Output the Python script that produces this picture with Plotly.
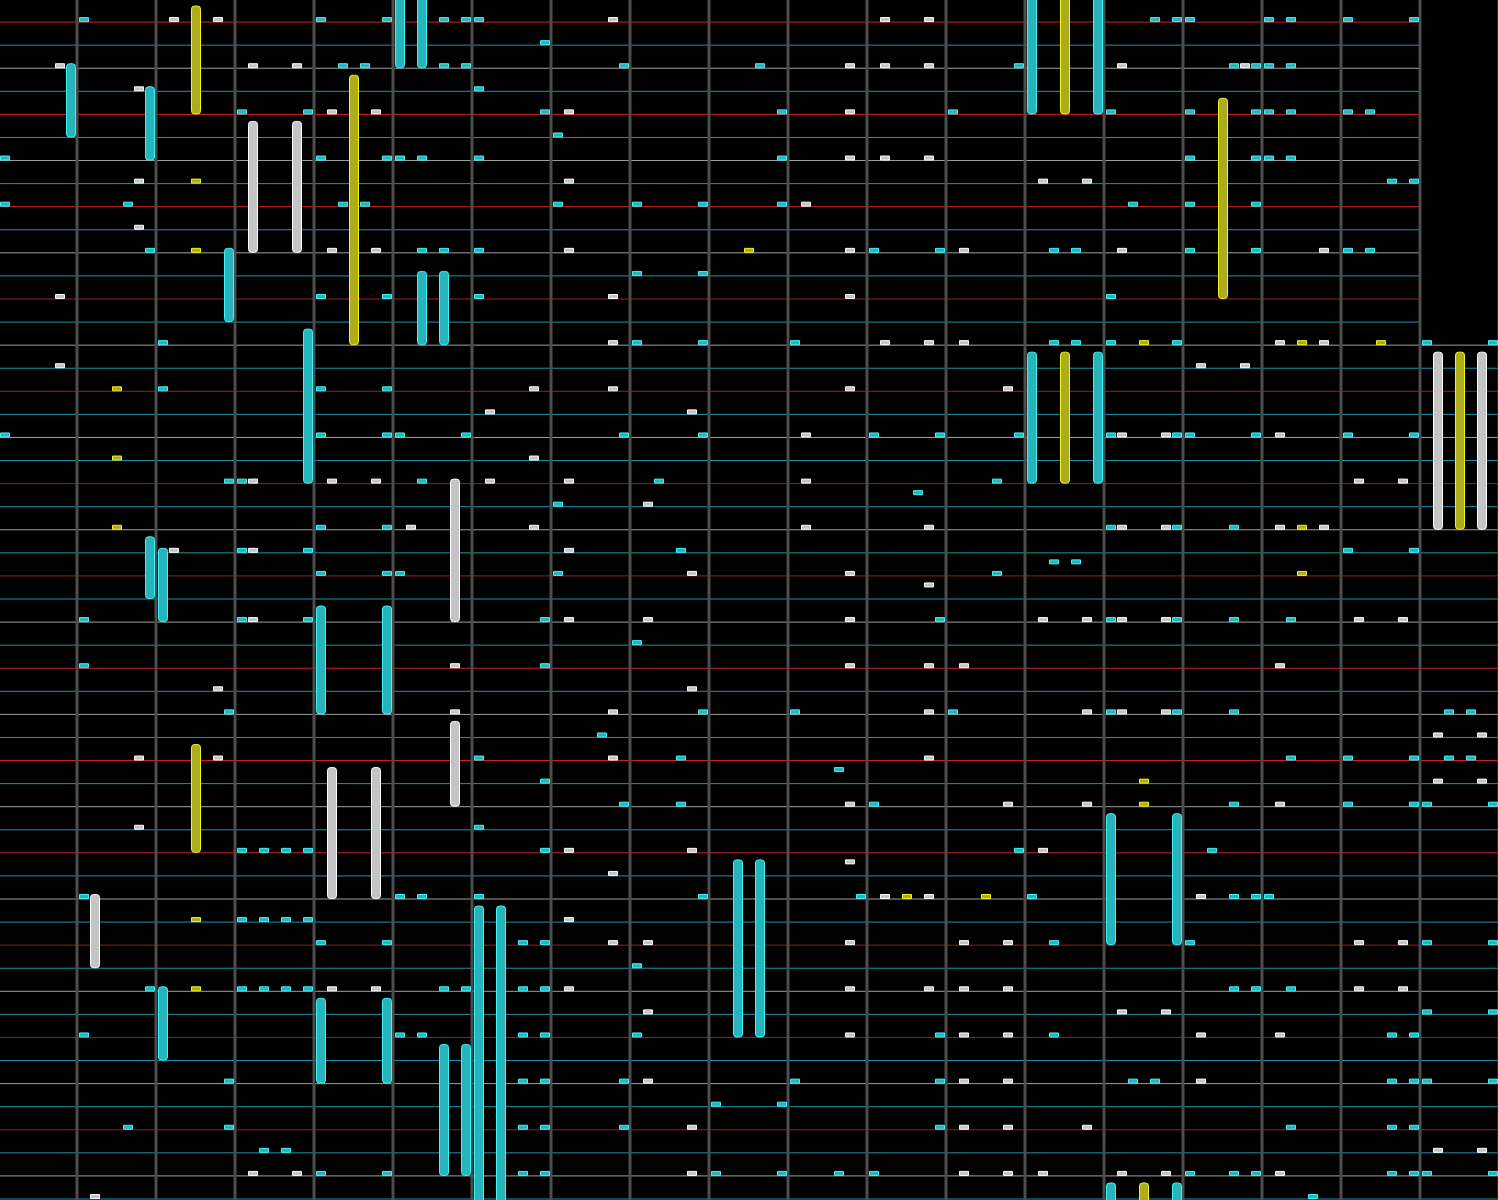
import plotly.graph_objects as go

# vertical piano-roll: columns are octaves (7 keys each), rows are time steps
# taps: (row, octave, key)   holds: (start_row, end_row, octave, key)

cyan_taps = [
    (0, 0, 0), (0, 3, 0), (0, 3, 6), (0, 4, 4), (0, 4, 6), (0, 5, 0), (0, 13, 4), (0, 13, 6),
    (0, 14, 0), (0, 15, 0), (0, 15, 2), (0, 16, 0), (0, 16, 6),
    (1, 5, 6),
    (2, 3, 2), (2, 3, 4), (2, 4, 4), (2, 4, 6), (2, 6, 6), (2, 8, 4), (2, 11, 6), (2, 14, 4),
    (2, 14, 6), (2, 15, 0), (2, 15, 2),
    (3, 5, 0),
    (4, 2, 0), (4, 2, 6), (4, 5, 6), (4, 8, 6), (4, 11, 0), (4, 13, 0), (4, 14, 0), (4, 14, 6),
    (4, 15, 0), (4, 15, 2), (4, 16, 0), (4, 16, 2),
    (5, 6, 0),
    (6, -1, 0), (6, 3, 0), (6, 3, 6), (6, 4, 0), (6, 4, 2), (6, 5, 0), (6, 8, 6), (6, 14, 0),
    (6, 14, 6), (6, 15, 0), (6, 15, 2),
    (7, 16, 4), (7, 16, 6),
    (8, -1, 0), (8, 0, 4), (8, 3, 2), (8, 3, 4), (8, 6, 0), (8, 7, 0), (8, 7, 6), (8, 8, 6),
    (8, 13, 2), (8, 14, 0), (8, 14, 6),
    (10, 0, 6), (10, 4, 2), (10, 4, 4), (10, 5, 0), (10, 10, 0), (10, 10, 6), (10, 12, 2),
    (10, 12, 4), (10, 14, 0), (10, 14, 6), (10, 16, 0), (10, 16, 2),
    (11, 7, 0), (11, 7, 6),
    (12, 3, 0), (12, 3, 6), (12, 5, 0), (12, 13, 0),
    (14, 1, 0), (14, 7, 0), (14, 7, 6), (14, 9, 0), (14, 12, 2), (14, 12, 4), (14, 13, 0),
    (14, 13, 6), (14, 17, 0), (14, 17, 6),
    (16, 1, 0), (16, 3, 0), (16, 3, 6),
    (18, -1, 0), (18, 3, 0), (18, 3, 6), (18, 4, 0), (18, 4, 6), (18, 6, 6), (18, 7, 6),
    (18, 10, 0), (18, 10, 6), (18, 11, 6), (18, 13, 0), (18, 13, 6), (18, 14, 0), (18, 14, 6),
    (18, 16, 0), (18, 16, 6),
    (20, 1, 6), (20, 2, 0), (20, 4, 2), (20, 7, 2), (20, 11, 4),
    (20.5, 10, 4),
    (21, 6, 0),
    (22, 3, 0), (22, 3, 6), (22, 13, 0), (22, 13, 6), (22, 14, 4),
    (23, 2, 0), (23, 2, 6), (23, 7, 4), (23, 16, 0), (23, 16, 6),
    (23.5, 12, 2), (23.5, 12, 4),
    (24, 3, 0), (24, 3, 6), (24, 4, 0), (24, 6, 0), (24, 11, 4),
    (26, 0, 0), (26, 2, 0), (26, 2, 6), (26, 5, 6), (26, 10, 6), (26, 13, 0), (26, 13, 6),
    (26, 14, 4), (26, 15, 2),
    (27, 7, 0),
    (28, 0, 0), (28, 5, 6),
    (30, 1, 6), (30, 7, 6), (30, 9, 0), (30, 11, 0), (30, 13, 0), (30, 13, 6), (30, 14, 4),
    (30, 17, 2), (30, 17, 4),
    (31, 6, 4),
    (32, 5, 0), (32, 7, 4), (32, 15, 2), (32, 16, 0), (32, 16, 6), (32, 17, 2), (32, 17, 4),
    (32.5, 9, 4),
    (33, 5, 6),
    (34, 6, 6), (34, 7, 4), (34, 10, 0), (34, 14, 4), (34, 16, 0), (34, 16, 6), (34, 17, 0),
    (34, 17, 6),
    (35, 5, 0),
    (36, 2, 0), (36, 2, 2), (36, 2, 4), (36, 2, 6), (36, 5, 6), (36, 11, 6), (36, 14, 2),
    (38, 0, 0), (38, 4, 0), (38, 4, 2), (38, 5, 0), (38, 7, 6), (38, 9, 6), (38, 12, 0),
    (38, 14, 4), (38, 14, 6), (38, 15, 0),
    (39, 2, 0), (39, 2, 2), (39, 2, 4), (39, 2, 6),
    (40, 3, 0), (40, 3, 6), (40, 5, 4), (40, 5, 6), (40, 12, 2), (40, 14, 0), (40, 17, 0),
    (40, 17, 6),
    (41, 7, 0),
    (42, 0, 6), (42, 2, 0), (42, 2, 2), (42, 2, 4), (42, 2, 6), (42, 4, 4), (42, 4, 6),
    (42, 5, 4), (42, 5, 6), (42, 14, 4), (42, 14, 6), (42, 15, 2),
    (43, 17, 0), (43, 17, 6),
    (44, 0, 0), (44, 4, 0), (44, 4, 2), (44, 5, 4), (44, 5, 6), (44, 7, 0), (44, 10, 6),
    (44, 12, 2), (44, 16, 4), (44, 16, 6),
    (46, 1, 6), (46, 5, 4), (46, 5, 6), (46, 6, 6), (46, 9, 0), (46, 10, 6), (46, 13, 2),
    (46, 13, 4), (46, 16, 4), (46, 16, 6), (46, 17, 0), (46, 17, 6),
    (47, 8, 0), (47, 8, 6),
    (48, 0, 4), (48, 1, 6), (48, 5, 4), (48, 5, 6), (48, 6, 6), (48, 10, 6), (48, 15, 2),
    (48, 16, 4), (48, 16, 6),
    (49, 2, 2), (49, 2, 4),
    (50, 3, 0), (50, 3, 6), (50, 5, 4), (50, 5, 6), (50, 8, 0), (50, 8, 6), (50, 9, 4),
    (50, 10, 0), (50, 14, 0), (50, 14, 4), (50, 14, 6), (50, 16, 4), (50, 16, 6), (50, 17, 0),
    (50, 17, 6),
    (51, 15, 4),
]

white_taps = [
    (0, 1, 1), (0, 1, 5), (0, 6, 5), (0, 10, 1), (0, 10, 5),
    (2, -1, 5), (2, 2, 1), (2, 2, 5), (2, 9, 5), (2, 10, 1), (2, 10, 5), (2, 13, 1), (2, 14, 5),
    (3, 0, 5),
    (4, 3, 1), (4, 3, 5), (4, 6, 1), (4, 9, 5),
    (6, 9, 5), (6, 10, 1), (6, 10, 5),
    (7, 0, 5), (7, 6, 1), (7, 12, 1), (7, 12, 5),
    (8, 9, 1),
    (9, 0, 5),
    (10, 3, 1), (10, 3, 5), (10, 6, 1), (10, 9, 5), (10, 11, 1), (10, 13, 1), (10, 15, 5),
    (12, -1, 5), (12, 6, 5), (12, 9, 5),
    (14, 6, 5), (14, 10, 1), (14, 10, 5), (14, 11, 1), (14, 15, 1), (14, 15, 5),
    (15, -1, 5), (15, 14, 1), (15, 14, 5),
    (16, 5, 5), (16, 6, 5), (16, 9, 5), (16, 11, 5),
    (17, 5, 1), (17, 7, 5),
    (18, 9, 1), (18, 13, 1), (18, 13, 5), (18, 15, 1),
    (19, 5, 5),
    (20, 2, 1), (20, 3, 1), (20, 3, 5), (20, 5, 1), (20, 6, 1), (20, 9, 1), (20, 16, 1),
    (20, 16, 5),
    (21, 7, 1),
    (22, 4, 1), (22, 5, 5), (22, 9, 1), (22, 10, 5), (22, 13, 1), (22, 13, 5), (22, 15, 1),
    (22, 15, 5),
    (23, 1, 1), (23, 2, 1), (23, 6, 1),
    (24, 7, 5), (24, 9, 5),
    (24.5, 10, 5),
    (26, 2, 1), (26, 6, 1), (26, 7, 1), (26, 9, 5), (26, 12, 1), (26, 12, 5), (26, 13, 1),
    (26, 13, 5), (26, 16, 1), (26, 16, 5),
    (28, 4, 5), (28, 9, 5), (28, 10, 5), (28, 11, 1), (28, 15, 1),
    (29, 1, 5), (29, 7, 5),
    (30, 4, 5), (30, 6, 5), (30, 10, 5), (30, 12, 5), (30, 13, 1), (30, 13, 5),
    (31, 17, 1), (31, 17, 5),
    (32, 0, 5), (32, 1, 5), (32, 6, 5), (32, 10, 5),
    (33, 17, 1), (33, 17, 5),
    (34, 9, 5), (34, 11, 5), (34, 12, 5), (34, 15, 1),
    (35, 0, 5),
    (36, 6, 1), (36, 7, 5), (36, 12, 1),
    (36.5, 9, 5),
    (37, 6, 5),
    (38, 10, 1), (38, 10, 5), (38, 14, 1),
    (39, 6, 1),
    (40, 6, 5), (40, 7, 1), (40, 9, 5), (40, 11, 1), (40, 11, 5), (40, 16, 1), (40, 16, 5),
    (42, 3, 1), (42, 3, 5), (42, 6, 1), (42, 9, 5), (42, 10, 5), (42, 11, 1), (42, 11, 5),
    (42, 16, 1), (42, 16, 5),
    (43, 7, 1), (43, 13, 1), (43, 13, 5),
    (44, 9, 5), (44, 11, 1), (44, 11, 5), (44, 14, 1), (44, 15, 1),
    (46, 7, 1), (46, 11, 1), (46, 11, 5), (46, 14, 1),
    (48, 7, 5), (48, 11, 1), (48, 11, 5), (48, 12, 5),
    (49, 17, 1), (49, 17, 5),
    (50, 2, 1), (50, 2, 5), (50, 7, 5), (50, 11, 1), (50, 11, 5), (50, 12, 1), (50, 13, 1),
    (50, 13, 5), (50, 15, 1),
    (51, 0, 1),
]

yellow_taps = [
    (7, 1, 3), (10, 1, 3), (10, 8, 3),
    (14, 13, 3), (14, 15, 3), (14, 16, 3),
    (16, 0, 3), (19, 0, 3), (22, 0, 3), (22, 15, 3), (24, 15, 3),
    (33, 13, 3), (34, 13, 3), (38, 10, 3), (38, 11, 3), (39, 1, 3), (42, 1, 3),
]

cyan_holds = [
    (-2, 2, 4, 0), (-2, 2, 4, 2), (2, 5, -1, 6), (3, 6, 0, 6), (10, 13, 1, 6),
    (11, 14, 4, 2), (11, 14, 4, 4), (13.5, 20, 2, 6), (-2, 4, 12, 0), (-2, 4, 12, 6),
    (14.5, 20, 12, 0), (14.5, 20, 12, 6), (22.5, 25, 0, 6), (23, 26, 1, 0),
    (25.5, 30, 3, 0), (25.5, 30, 3, 6), (34.5, 40, 13, 0), (34.5, 40, 13, 6),
    (36.5, 44, 8, 2), (36.5, 44, 8, 4), (38.5, 53, 5, 0), (38.5, 53, 5, 2),
    (42, 45, 1, 0), (42.5, 46, 3, 0), (42.5, 46, 3, 6), (44.5, 50, 4, 4), (44.5, 50, 4, 6),
    (50.5, 53, 13, 0), (50.5, 53, 13, 6),
]

yellow_holds = [
    (-0.5, 4, 1, 3), (2.5, 14, 3, 3), (3.5, 12, 14, 3), (-2, 4, 12, 3),
    (14.5, 20, 12, 3), (14.5, 22, 17, 3), (31.5, 36, 1, 3), (50.5, 53, 13, 3),
]

white_holds = [
    (4.5, 10, 2, 1), (4.5, 10, 2, 5), (14.5, 22, 17, 1), (14.5, 22, 17, 5),
    (20, 26, 4, 5), (30.5, 34, 4, 5), (32.5, 38, 3, 1), (32.5, 38, 3, 5), (38, 41, 0, 1),
]

bright_red_rows = [0, 4, 8, 28, 32, 36]
short_rows = 14          # the first rows stop at the last octave line
n_rows = 52

ROW_PX = 1200 / n_rows
OCT_PX = 79
NOTE_W = 9 / OCT_PX
TOP = 4.5 / ROW_PX
BOT = 0.5 / ROW_PX

palette = {
    "cyan": ("#27b4ba", "#3ff4f8"),
    "white": ("#c4c4c4", "#ffffff"),
    "yellow": ("#adad1c", "#f4f41e"),
}


def note_x(octave, key):
    return octave + (7 + 11 * key) / OCT_PX


fig = go.Figure()


def add_taps(taps, name):
    fill, edge = palette[name]
    fig.add_trace(go.Bar(
        x=[note_x(o, k) for r, o, k in taps],
        base=[r - TOP for r, o, k in taps],
        y=[TOP - BOT] * len(taps),
        width=NOTE_W,
        marker=dict(color=fill, line=dict(color=edge, width=1)),
        hoverinfo="skip",
    ))


def add_holds(holds, name):
    fill, edge = palette[name]
    fig.add_trace(go.Bar(
        x=[note_x(o, k) for s, e, o, k in holds],
        base=[s - TOP for s, e, o, k in holds],
        y=[e - s + TOP - BOT for s, e, o, k in holds],
        width=NOTE_W,
        marker=dict(color=fill, line=dict(color=edge, width=1), cornerradius=3),
        hoverinfo="skip",
    ))


add_holds(cyan_holds, "cyan")
add_holds(yellow_holds, "yellow")
add_holds(white_holds, "white")
add_taps(cyan_taps, "cyan")
add_taps(white_taps, "white")
add_taps(yellow_taps, "yellow")

# grid lines
shapes = []
for k in range(n_rows):
    m = k % 4
    if m == 0:
        col = "#d42020" if k in bright_red_rows else "#a01c1c"
    elif m == 2:
        col = "#a0a0a0"
    else:
        col = "#1e93ab"
    x_end = 17 if k < short_rows else 19
    shapes.append(dict(type="line", xref="x", yref="y", x0=-1.5, x1=x_end, y0=k, y1=k,
                       line=dict(color=col, width=1), layer="below"))
for o in range(-1, 19):
    shapes.append(dict(type="line", xref="x", yref="y", x0=o, x1=o, y0=-2, y1=n_rows + 1,
                       line=dict(color="#4d4d4d", width=3), layer="below"))

fig.update_layout(
    width=1498,
    height=1200,
    margin=dict(l=0, r=0, t=0, b=0),
    paper_bgcolor="black",
    plot_bgcolor="black",
    barmode="overlay",
    showlegend=False,
    shapes=shapes,
    xaxis=dict(range=[-77 / OCT_PX, (1498 - 77) / OCT_PX], visible=False, fixedrange=True),
    yaxis=dict(range=[1201 / ROW_PX - 1, 1 / ROW_PX - 1], visible=False, fixedrange=True),
)

fig.write_html("out.html", config={"displayModeBar": False},
               post_script="document.body.style.margin='0';document.body.style.overflow='hidden';")
